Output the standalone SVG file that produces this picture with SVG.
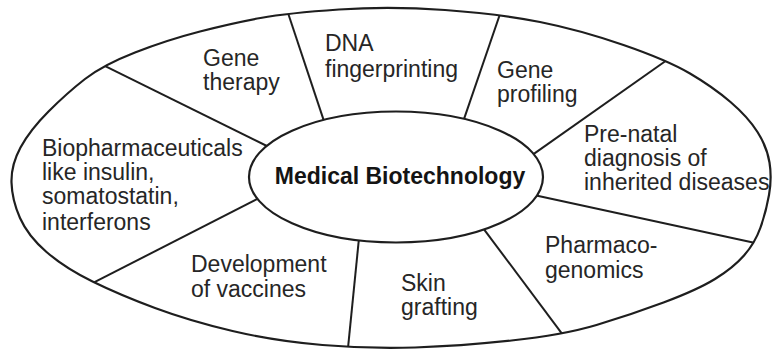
<svg xmlns="http://www.w3.org/2000/svg" width="773" height="352" viewBox="0 0 773 352">
  <style>
    .frame { fill: #ffffff; stroke: #1e1e1e; stroke-width: 2.2; }
    .div { stroke: #1e1e1e; stroke-width: 2; fill: none; stroke-linecap: butt; }
    .lbl { font-family: "Liberation Sans", Arial, sans-serif; font-size: 23px; fill: #262626; }
    .title { font-family: "Liberation Sans", Arial, sans-serif; font-size: 23px; font-weight: bold; fill: #141414; }
  </style>
  <defs>
    <path id="outerShape" d="M339,9.5 Q390,6 445,10 Q500,14 540,22 Q580,30 623.5,45 Q667,60 690,73.5 Q713,87 730.5,102 Q748,117 757.5,132 Q767,147 769.5,162.5 Q772,178 769,195 Q766,212 760.5,227.5 Q755,243 744,255.5 Q733,268 715,279 Q697,290 663.5,302.5 Q630,315 596.5,325 Q563,335 511.5,340.5 Q460,346 415,347.5 Q370,349 322.5,345 Q275,341 232.5,331 Q190,321 155,308 Q120,295 92.5,281.5 Q65,268 46.5,252 Q28,236 20,218 Q12,200 11.5,182.5 Q11,165 20.5,147.5 Q30,130 48.5,111.5 Q67,93 85,79 Q103,65 135,52.5 Q167,40 200,31.5 Q233,23 260.5,18 Q288,13 339,9.5 Z"/>
    <clipPath id="outerClip">
      <use href="#outerShape"/>
    </clipPath>
  </defs>
  <rect x="0" y="0" width="773" height="352" fill="#ffffff"/>

  <g id="outer-ring">
    <use href="#outerShape" class="frame"/>
  </g>

  <g id="connectors" clip-path="url(#outerClip)">
    <line class="div" x1="97.6" y1="62.3" x2="272" y2="148.5"/>
    <line class="div" x1="286.1" y1="7.3" x2="325.5" y2="125.6"/>
    <line class="div" x1="502" y1="8.3" x2="461.4" y2="126.6"/>
    <line class="div" x1="672" y1="56.5" x2="528.5" y2="157.6"/>
    <line class="div" x1="761" y1="244.3" x2="535" y2="195.3"/>
    <line class="div" x1="566.6" y1="339.8" x2="481.2" y2="225.6"/>
    <line class="div" x1="347.4" y1="354" x2="359.3" y2="235"/>
    <line class="div" x1="89.6" y1="284.7" x2="264.2" y2="195.4"/>
  </g>

  <g id="center">
    <ellipse class="frame" cx="396" cy="177" rx="147" ry="65.5"/>
    <text class="title" x="400" y="184" text-anchor="middle">Medical Biotechnology</text>
  </g>

  <g id="gene-therapy">
    <text class="lbl" x="203" y="66">Gene</text>
    <text class="lbl" x="203" y="90">therapy</text>
  </g>

  <g id="dna-fingerprinting">
    <text class="lbl" x="325" y="50.5">DNA</text>
    <text class="lbl" x="325" y="76.5">fingerprinting</text>
  </g>

  <g id="gene-profiling">
    <text class="lbl" x="497" y="77.5">Gene</text>
    <text class="lbl" x="497" y="101.5">profiling</text>
  </g>

  <g id="pre-natal">
    <text class="lbl" x="584" y="141.5">Pre-natal</text>
    <text class="lbl" x="584" y="165.5">diagnosis of</text>
    <text class="lbl" x="584" y="190">inherited diseases</text>
  </g>

  <g id="pharmacogenomics">
    <text class="lbl" x="545" y="253">Pharmaco-</text>
    <text class="lbl" x="545" y="278">genomics</text>
  </g>

  <g id="skin-grafting">
    <text class="lbl" x="401" y="290.5">Skin</text>
    <text class="lbl" x="401" y="315">grafting</text>
  </g>

  <g id="vaccines">
    <text class="lbl" x="191" y="271.5">Development</text>
    <text class="lbl" x="191" y="296.5">of vaccines</text>
  </g>

  <g id="biopharmaceuticals">
    <text class="lbl" x="42" y="156">Biopharmaceuticals</text>
    <text class="lbl" x="42" y="180">like insulin,</text>
    <text class="lbl" x="42" y="204">somatostatin,</text>
    <text class="lbl" x="42" y="229.5">interferons</text>
  </g>
</svg>
